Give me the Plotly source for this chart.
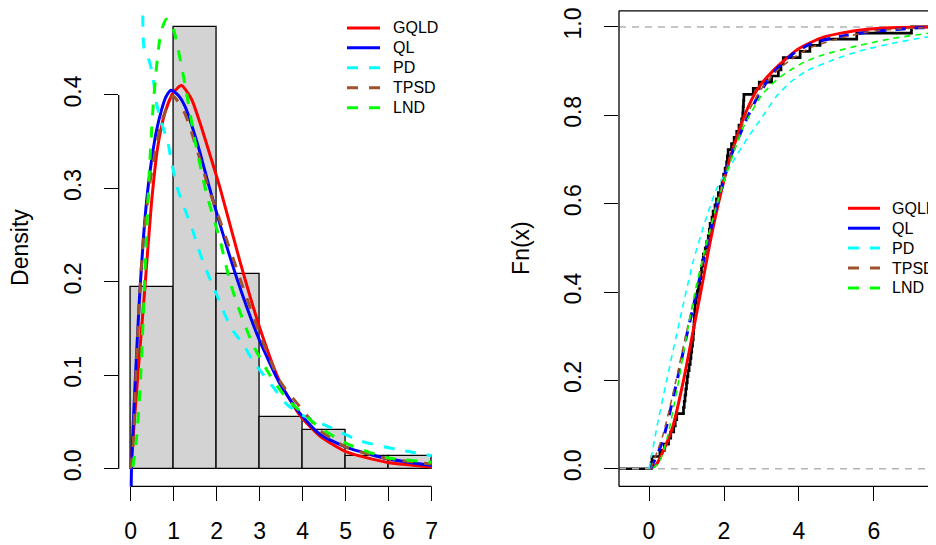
import plotly.graph_objects as go

W, H = 936, 545
OFF = 8  # page body margin of the html page

# ---------------- data ----------------
bin_edges = [0, 1, 2, 3, 4, 5, 6, 7]
bin_counts = [14, 34, 15, 4, 3, 1, 1]

# fitted densities
gqld_x = [0, 0.09, 0.21, 0.33, 0.48, 0.63, 0.79, 0.98, 1.18, 1.41, 1.64, 1.87, 2.08, 2.54, 3.0, 3.47, 3.94, 4.4, 5.02, 5.95, 7.0]
gqld_y = [0, 0.055, 0.126, 0.194, 0.283, 0.345, 0.38, 0.402, 0.41, 0.396, 0.366, 0.332, 0.3, 0.222, 0.151, 0.093, 0.057, 0.035, 0.018, 0.007, 0.002]

ql_x = [0, 0.02, 0.1, 0.2, 0.3, 0.4, 0.5, 0.6, 0.71, 0.82, 0.94, 1.1, 1.26, 1.57, 1.8, 2.08, 2.54, 3.0, 3.47, 3.94, 4.4, 5.02, 5.95, 7.0]
ql_y = [-0.06, 0.005, 0.09, 0.18, 0.25, 0.3, 0.335, 0.362, 0.383, 0.398, 0.405, 0.4, 0.388, 0.345, 0.306, 0.261, 0.194, 0.137, 0.091, 0.059, 0.037, 0.023, 0.011, 0.0035]

pd_x = [0.28, 0.31, 0.44, 0.52, 0.6, 0.71, 0.87, 0.94, 1.1, 1.29, 1.45, 1.57, 1.72, 1.88, 2.03, 2.19, 2.39, 2.62, 2.85, 3.08, 3.32, 3.63, 4.01, 4.56, 5.33, 6.26, 7.0]
pd_y = [0.485, 0.45, 0.435, 0.418, 0.391, 0.371, 0.348, 0.33, 0.298, 0.274, 0.254, 0.236, 0.217, 0.199, 0.183, 0.165, 0.147, 0.133, 0.115, 0.101, 0.087, 0.069, 0.057, 0.046, 0.03, 0.02, 0.014]

tpsd_x = [0, 0.05, 0.1, 0.2, 0.3, 0.48, 0.71, 0.98, 1.26, 1.57, 1.8, 2.08, 2.54, 3.0, 3.47, 3.94, 4.4, 5.02, 5.95, 7.0]
tpsd_y = [0, 0.02, 0.08, 0.18, 0.25, 0.316, 0.37, 0.399, 0.38, 0.337, 0.302, 0.265, 0.204, 0.144, 0.094, 0.066, 0.041, 0.023, 0.011, 0.005]

lnd_x = [0.05, 0.13, 0.21, 0.29, 0.33, 0.4, 0.44, 0.52, 0.6, 0.67, 0.75, 0.83, 0.92, 1.02, 1.26, 1.49, 1.76, 2.08, 2.31, 2.54, 2.85, 3.24, 3.63, 4.01, 4.4, 5.02, 5.95, 7.0]
lnd_y = [0.002, 0.03, 0.08, 0.16, 0.21, 0.285, 0.325, 0.387, 0.43, 0.458, 0.474, 0.481, 0.477, 0.466, 0.412, 0.352, 0.295, 0.244, 0.2, 0.168, 0.132, 0.1, 0.075, 0.059, 0.044, 0.027, 0.012, 0.007]

# sample (for the empirical CDF)
sample = [0.06, 0.08, 0.29, 0.41, 0.52, 0.58, 0.66, 0.70, 0.74, 0.92, 0.94, 0.96, 0.98, 1.00,
          1.02, 1.04, 1.07, 1.10, 1.12, 1.14, 1.16, 1.18, 1.19, 1.20, 1.21, 1.22, 1.23, 1.26, 1.29,
          1.32, 1.35, 1.38, 1.40, 1.43, 1.45, 1.50, 1.54, 1.58, 1.61, 1.63, 1.68, 1.71, 1.76, 1.80,
          1.85, 1.90, 1.95, 1.99,
          2.03, 2.07, 2.09, 2.11, 2.20, 2.27, 2.34, 2.40, 2.47, 2.50, 2.51, 2.52, 2.53, 2.78, 2.94,
          3.27, 3.45, 3.52, 3.58, 4.03, 4.29, 4.56, 5.54, 7.00]

# fitted CDFs
gqld_cx = [0.05, 0.2, 0.43, 0.65, 0.92, 1.15, 1.38, 1.6, 1.85, 2.15, 2.55, 2.9, 3.3, 3.98, 4.65, 5.54, 6.43, 7.9]
gqld_cy = [0, 0.01, 0.05, 0.1, 0.2, 0.3, 0.4, 0.5, 0.6, 0.7, 0.8, 0.86, 0.9, 0.95, 0.977, 0.992, 0.998, 1.0]

ql_cx = [0.05, 0.34, 0.45, 0.75, 1.0, 1.27, 1.53, 1.82, 2.15, 2.65, 2.95, 3.35, 3.85, 4.33, 5.0, 6.0, 7.2, 7.9]
ql_cy = [0, 0.057, 0.09, 0.2, 0.3, 0.4, 0.5, 0.6, 0.7, 0.8, 0.85, 0.9, 0.94, 0.962, 0.977, 0.99, 0.998, 0.999]

pd_cx = [0.0, 0.07, 0.2, 0.47, 0.83, 1.18, 1.5, 1.8, 2.2, 2.6, 3.05, 3.4, 3.77, 4.2, 4.9, 5.6, 6.5, 7.4, 7.9]
pd_cy = [0, 0.03, 0.09, 0.2, 0.34, 0.47, 0.56, 0.633, 0.69, 0.745, 0.8, 0.843, 0.875, 0.9, 0.925, 0.945, 0.963, 0.977, 0.982]

tpsd_cx = [0.05, 0.38, 0.72, 1.0, 1.25, 1.5, 1.8, 2.15, 2.6, 3.0, 3.4, 3.77, 4.25, 4.9, 5.85, 6.73, 7.9]
tpsd_cy = [0, 0.079, 0.2, 0.31, 0.4, 0.49, 0.6, 0.7, 0.8, 0.86, 0.9, 0.925, 0.951, 0.97, 0.989, 0.996, 0.999]

lnd_cx = [0.1, 0.3, 0.5, 0.75, 1.0, 1.25, 1.5, 1.75, 2.0, 2.5, 3.0, 3.4, 3.77, 4.15, 4.65, 5.6, 6.5, 7.4, 7.9]
lnd_cy = [0, 0.02, 0.075, 0.18, 0.3, 0.41, 0.5, 0.58, 0.65, 0.77, 0.845, 0.88, 0.902, 0.921, 0.937, 0.958, 0.974, 0.985, 0.988]

x1_ticks = [0, 1, 2, 3, 4, 5, 6, 7]
y1_ticks = [0.0, 0.1, 0.2, 0.3, 0.4]
x2_ticks = [0, 2, 4, 6]
y2_ticks = [0.0, 0.2, 0.4, 0.6, 0.8, 1.0]
legend_names = ["GQLD", "QL", "PD", "TPSD", "LND"]
legend_dashed = [False, False, True, True, True]

# ---------------- styling ----------------
FONT = "Liberation Sans, Arial, Helvetica, sans-serif"
AX_FS = 23
BROWN = "#A0522D"
colors = {"GQLD": "#FF0000", "QL": "#0000FF", "PD": "#00FFFF", "TPSD": BROWN, "LND": "#00FF00"}


def fx(px):  # screen px -> paper x
    return (px - OFF) / W


def fy(py):  # screen px -> paper y
    return 1 - (py - OFF) / H


X1_RANGE = [-0.28, 7.28]
Y1_RANGE = [-0.0189, 0.4909]
X2_RANGE = [-0.8, 7.867]
Y2_RANGE = [-0.04, 1.0383]
YDOM = [fy(486.2), 1.0]

fig = go.Figure()

# histogram (density scale)
n = sum(bin_counts)
centers = [(bin_edges[i] + bin_edges[i + 1]) / 2 for i in range(len(bin_counts))]
widths = [bin_edges[i + 1] - bin_edges[i] for i in range(len(bin_counts))]
dens = [c / (n * w) for c, w in zip(bin_counts, widths)]
fig.add_trace(go.Bar(x=centers, y=dens, width=widths,
                     marker=dict(color="#D3D3D3", line=dict(color="black", width=1.3)),
                     xaxis="x", yaxis="y", cliponaxis=False))

TH = "11px,11px"


def curve(x, y, name, dash, width, ax="x", ay="y"):
    fig.add_trace(go.Scatter(x=x, y=y, mode="lines", name=name,
                             line=dict(color=colors[name], width=width, dash=dash, shape="spline", smoothing=0.6),
                             xaxis=ax, yaxis=ay))


curve(gqld_x, gqld_y, "GQLD", "solid", 3)
curve(ql_x, ql_y, "QL", "solid", 3)
curve(pd_x, pd_y, "PD", TH, 3)
curve(tpsd_x, tpsd_y, "TPSD", TH, 3)
curve(lnd_x, lnd_y, "LND", TH, 3)

# ECDF
s = sorted(sample)
ex = [X2_RANGE[0]] + s + [X2_RANGE[1]]
ey = [0] + [(i + 1) / len(s) for i in range(len(s))] + [1]
fig.add_trace(go.Scatter(x=ex, y=ey, mode="lines", line=dict(color="black", width=2.7, shape="hv"),
                         xaxis="x2", yaxis="y2"))
for lvl in (0, 1):
    fig.add_trace(go.Scatter(x=X2_RANGE, y=[lvl, lvl], mode="lines",
                             line=dict(color="#B3B3B3", width=1.5, dash="7px,6px"), xaxis="x2", yaxis="y2"))

TN = "6px,5px"
curve(gqld_cx, gqld_cy, "GQLD", "solid", 3, "x2", "y2")
curve(ql_cx, ql_cy, "QL", "10px,9px", 3, "x2", "y2")
curve(pd_cx, pd_cy, "PD", TN, 1.6, "x2", "y2")
curve(tpsd_cx, tpsd_cy, "TPSD", TN, 1.6, "x2", "y2")
curve(lnd_cx, lnd_cy, "LND", TN, 1.6, "x2", "y2")

tickfont = dict(family=FONT, size=AX_FS, color="black")
common = dict(ticks="outside", ticklen=14, tickwidth=1.3, tickcolor="black", showgrid=False, zeroline=False,
              tickfont=tickfont, ticklabeloverflow="allow")
xstand = dict(ticklabelstandoff=10)
ystand = dict(ticklabelstandoff=14)

shapes = [
    dict(type="line", xref="x", yref="y domain", x0=x1_ticks[0], x1=x1_ticks[-1], y0=0, y1=0,
         line=dict(color="black", width=1.3)),
    dict(type="line", xref="x domain", yref="y", x0=0, x1=0, y0=y1_ticks[0], y1=y1_ticks[-1],
         line=dict(color="black", width=1.3)),
    # frame of the right panel (top, bottom, left)
    dict(type="line", xref="x2 domain", yref="paper", x0=0, x1=1, y0=fy(8.8), y1=fy(8.8),
         line=dict(color="black", width=1.3)),
    dict(type="line", xref="x2 domain", yref="y2 domain", x0=0, x1=1, y0=0, y1=0,
         line=dict(color="black", width=1.3)),
    dict(type="line", xref="x2 domain", yref="paper", x0=0, x1=0, y0=YDOM[0], y1=fy(8.8),
         line=dict(color="black", width=1.3)),
]
annotations = [
    dict(text="Density", x=fx(20), y=fy(246.8), xref="paper", yref="paper", textangle=-90, showarrow=False,
         font=dict(family=FONT, size=AX_FS, color="black"), xanchor="center", yanchor="middle"),
    dict(text="Fn(x)", x=fx(521), y=fy(246.8), xref="paper", yref="paper", textangle=-90, showarrow=False,
         font=dict(family=FONT, size=AX_FS, color="black"), xanchor="center", yanchor="middle"),
]


def legend(x0, x1, xt, rows):
    for name, dsh, r in zip(legend_names, legend_dashed, rows):
        shapes.append(dict(type="line", xref="paper", yref="paper", x0=fx(x0), x1=fx(x1), y0=fy(r), y1=fy(r),
                           line=dict(color=colors[name], width=3, dash=TH if dsh else "solid")))
        annotations.append(dict(text=name, x=fx(xt), y=fy(r), xref="paper", yref="paper", showarrow=False,
                                xanchor="left", yanchor="middle", font=dict(family=FONT, size=16, color="black")))


legend(347, 380, 391, [26, 46, 66, 86, 106])
legend(848, 880, 890, [207, 227, 247, 267, 287])

fig.update_layout(
    width=W, height=H, margin=dict(l=0, r=0, t=0, b=0), showlegend=False,
    paper_bgcolor="white", plot_bgcolor="white", bargap=0,
    xaxis=dict(domain=[fx(118.7), fx(443.7)], range=X1_RANGE, anchor="y", tickvals=x1_ticks,
               showline=False, **common, **xstand),
    yaxis=dict(domain=YDOM, range=Y1_RANGE, anchor="x", tickvals=y1_ticks,
               ticktext=[f"{v:.1f}" for v in y1_ticks], tickangle=-90, showline=False, **common, **ystand),
    xaxis2=dict(domain=[fx(619), 1.0], range=X2_RANGE, anchor="y2", tickvals=x2_ticks,
                showline=False, **common, **xstand),
    yaxis2=dict(domain=YDOM, range=Y2_RANGE, anchor="x2", tickvals=y2_ticks,
                ticktext=[f"{v:.1f}" for v in y2_ticks], tickangle=-90, showline=False, **common, **ystand),
    shapes=shapes, annotations=annotations,
)

fig.write_html("out.html")
